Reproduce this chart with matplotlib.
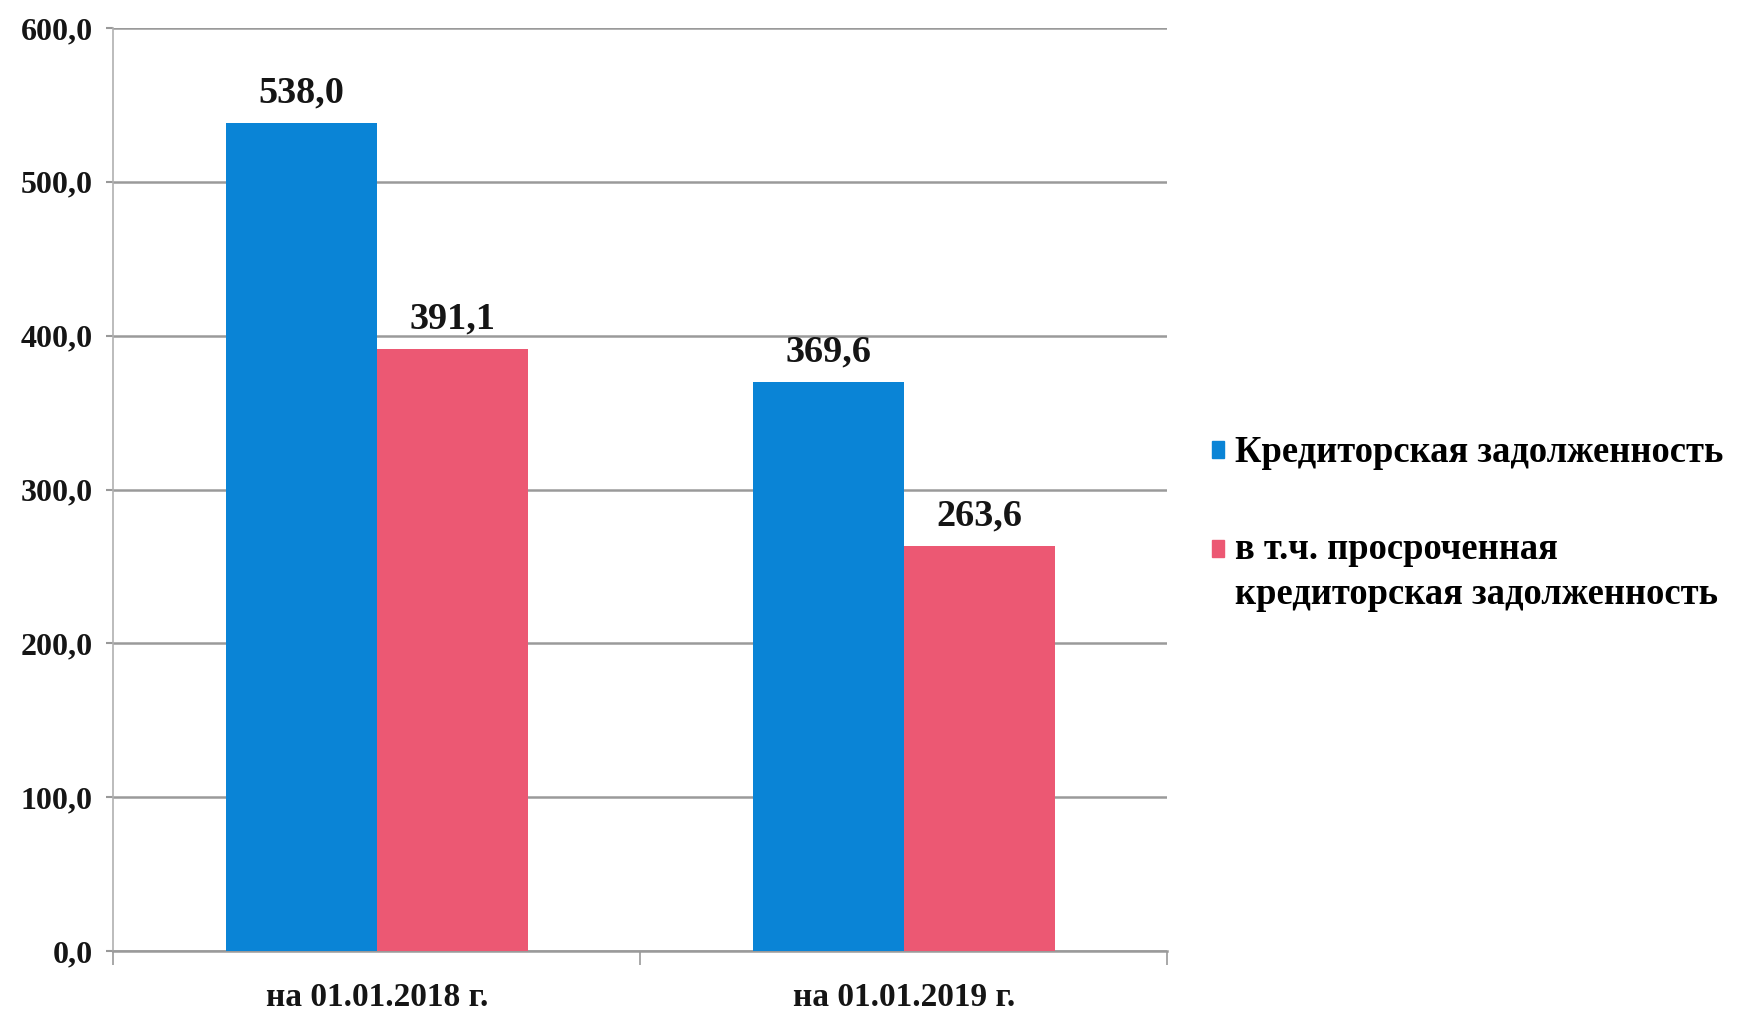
import matplotlib
matplotlib.use("Agg")
import matplotlib.pyplot as plt
from matplotlib.patches import Patch, Rectangle
from matplotlib.legend_handler import HandlerPatch
import numpy as np

categories = ["на 01.01.2018 г.", "на 01.01.2019 г."]
total_debt = [538.0, 369.6]
overdue_debt = [391.1, 263.6]
series_names = ["Кредиторская задолженность", "в т.ч. просроченная\nкредиторская задолженность"]
yticks = [0, 100, 200, 300, 400, 500, 600]

plt.rcParams['font.family'] = ['Liberation Serif', 'DejaVu Serif']
plt.rcParams['font.weight'] = 'bold'

blue = "#0A84D6"
pink = "#EC5873"

fig = plt.figure(figsize=(17.4, 10.19), dpi=100)
ax = fig.add_axes([0.0652, 0.0667, 0.6057, 0.9058])

x = np.arange(len(categories))
w = 0.287
b1 = ax.bar(x - w/2, total_debt, w, color=blue, zorder=3)
b2 = ax.bar(x + w/2, overdue_debt, w, color=pink, zorder=3)

def fmt(v):
    return f"{v:.1f}".replace(".", ",")

for bars, vals in ((b1, total_debt), (b2, overdue_debt)):
    for r, v in zip(bars, vals):
        ax.annotate(fmt(v), (r.get_x() + r.get_width()/2, v), xytext=(0, 9),
                    textcoords="offset points", ha="center", va="bottom",
                    fontsize=27.5, fontweight="bold", color="#151515")

ax.set_xlim(-0.5, len(categories) - 0.5)
ax.set_ylim(0, 600)
ax.set_yticks(yticks)
ax.set_yticklabels([fmt(v) for v in yticks], fontsize=23, fontweight="bold", color="#151515")
ax.set_xticks(x)
ax.set_xticklabels(categories, fontsize=24, fontweight="bold", color="#151515")
ax.tick_params(axis='x', length=0, pad=22)
ax.tick_params(axis='y', length=5, width=1.5, color="#999999", pad=10)
ax.set_xticks([-0.5, 0.5, 1.5], minor=True)
ax.tick_params(axis='x', which='minor', length=10, width=1.2, color="#999999")

ax.yaxis.grid(True, color="#9a9a9a", linewidth=1.8, zorder=0)
ax.set_axisbelow(True)
for s in ("top", "right"):
    ax.spines[s].set_visible(False)
ax.spines["left"].set_color("#b0b0b0")
ax.spines["left"].set_linewidth(1.2)
ax.spines["bottom"].set_color("#9a9a9a")
ax.spines["bottom"].set_linewidth(1.8)


def top_square(legend, orig_handle, xdescent, ydescent, width, height, fontsize):
    # place the square next to the first line of a two-line label
    return Rectangle((-xdescent, -ydescent + 0.65 * fontsize), width, height)


handles = [Patch(color=blue), Patch(color=pink)]
leg = fig.legend(handles, series_names, loc="upper left", bbox_to_anchor=(0.6775, 0.605),
                 frameon=False, prop={'weight': 'bold', 'size': 26.3},
                 handlelength=0.33, handleheight=0.33, handletextpad=0.3,
                 labelspacing=1.7,
                 handler_map={handles[1]: HandlerPatch(patch_func=top_square)})
for t in leg.get_texts():
    t.set_linespacing(1.35)

fig.savefig("out.png", dpi=100)
